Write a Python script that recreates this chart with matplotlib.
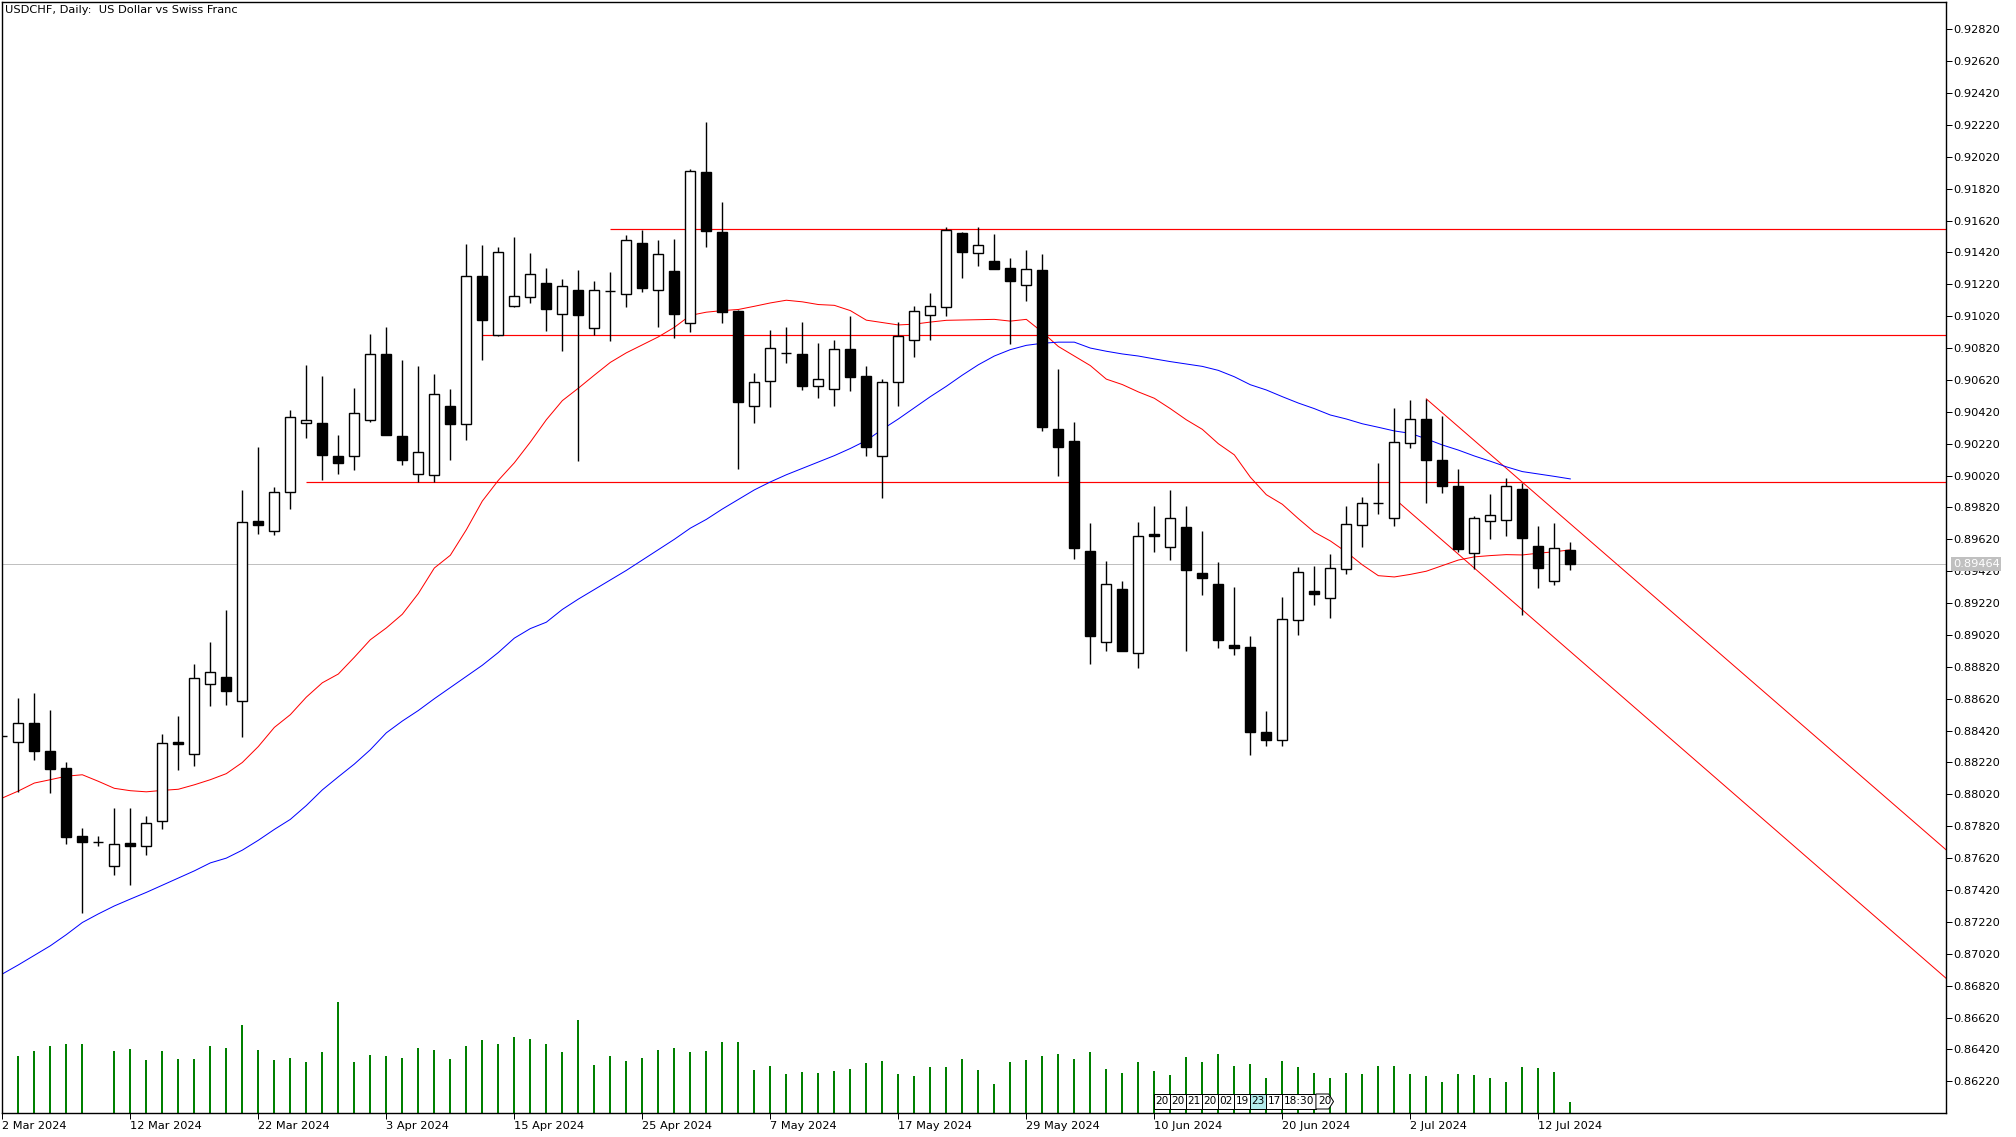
"""USDCHF daily chart, MetaTrader-style: candles, two moving averages, levels, channel, volume."""

import matplotlib

matplotlib.use("Agg")
import matplotlib.pyplot as plt
import matplotlib.transforms as mtransforms
from matplotlib.patches import Rectangle, Polygon

TITLE = "USDCHF, Daily:  US Dollar vs Swiss Franc"
LAST_PRICE = 0.89464

# daily bars, index 0 is the bar clipped at the left edge
opens = [
    0.88388, 0.88347, 0.88468, 0.88295, 0.88186, 0.87759, 0.87724, 0.87568, 0.87713, 0.87693,
    0.87850, 0.88349, 0.88273, 0.88714, 0.88755, 0.88607, 0.89736, 0.89671, 0.89919, 0.90347,
    0.90350, 0.90143, 0.90145, 0.90367, 0.90781, 0.90269, 0.90031, 0.90022, 0.90459, 0.90344,
    0.91269, 0.90899, 0.91084, 0.91140, 0.91226, 0.91036, 0.91182, 0.90944, 0.91180, 0.91162,
    0.91479, 0.91182, 0.91305, 0.90980, 0.91924, 0.91549, 0.91053, 0.90454, 0.90616, 0.90790,
    0.90784, 0.90585, 0.90560, 0.90815, 0.90644, 0.90145, 0.90605, 0.90868, 0.91030, 0.91075,
    0.91543, 0.91414, 0.91367, 0.91322, 0.91218, 0.91310, 0.90311, 0.90235, 0.89546, 0.88975,
    0.89308, 0.88910, 0.89652, 0.89571, 0.89697, 0.89406, 0.89339, 0.88958, 0.88944, 0.88409,
    0.88359, 0.89112, 0.89297, 0.89249, 0.89431, 0.89709, 0.89846, 0.89751, 0.90227, 0.90375,
    0.90118, 0.89955, 0.89532, 0.89734, 0.89740, 0.89936, 0.89579, 0.89357, 0.89551,
]
highs = [
    0.88388, 0.88627, 0.88653, 0.88547, 0.88225, 0.87809, 0.87759, 0.87934, 0.87934, 0.87884,
    0.88401, 0.88514, 0.88835, 0.88974, 0.89176, 0.89932, 0.90197, 0.89951, 0.90429, 0.90714,
    0.90644, 0.90274, 0.90568, 0.90907, 0.90952, 0.90745, 0.90708, 0.90658, 0.90563, 0.91473,
    0.91467, 0.91453, 0.91518, 0.91417, 0.91322, 0.91254, 0.91311, 0.91240, 0.91297, 0.91529,
    0.91563, 0.91495, 0.91504, 0.91946, 0.92238, 0.91736, 0.91060, 0.90663, 0.90932, 0.90952,
    0.90983, 0.90851, 0.90871, 0.91022, 0.90708, 0.90627, 0.90983, 0.91084, 0.91165, 0.91579,
    0.91551, 0.91579, 0.91535, 0.91386, 0.91437, 0.91411, 0.90689, 0.90355, 0.89722, 0.89485,
    0.89358, 0.89728, 0.89829, 0.89930, 0.89829, 0.89672, 0.89479, 0.89322, 0.89014, 0.88544,
    0.89258, 0.89448, 0.89454, 0.89527, 0.89829, 0.89885, 0.90098, 0.90445, 0.90495, 0.90501,
    0.90392, 0.90059, 0.89764, 0.89905, 0.90005, 0.89976, 0.89704, 0.89723, 0.89604,
]
lows = [
    0.88388, 0.88036, 0.88238, 0.88026, 0.87711, 0.87277, 0.87698, 0.87515, 0.87450, 0.87641,
    0.87804, 0.88175, 0.88201, 0.88573, 0.88579, 0.88377, 0.89652, 0.89645, 0.89808, 0.90258,
    0.89994, 0.90028, 0.90053, 0.90359, 0.90272, 0.90084, 0.89980, 0.89980, 0.90120, 0.90241,
    0.90742, 0.90893, 0.91076, 0.91101, 0.90927, 0.90804, 0.90109, 0.90902, 0.90862, 0.91075,
    0.91171, 0.90955, 0.90882, 0.90919, 0.91456, 0.90975, 0.90064, 0.90347, 0.90451, 0.90728,
    0.90554, 0.90507, 0.90454, 0.90549, 0.90145, 0.89877, 0.90459, 0.90762, 0.90868, 0.91019,
    0.91257, 0.91333, 0.91319, 0.90848, 0.91117, 0.90302, 0.90020, 0.89499, 0.88840, 0.88922,
    0.88922, 0.88810, 0.89538, 0.89493, 0.88922, 0.89269, 0.88941, 0.88896, 0.88266, 0.88322,
    0.88322, 0.89022, 0.89210, 0.89129, 0.89401, 0.89569, 0.89776, 0.89703, 0.90196, 0.89851,
    0.89913, 0.89538, 0.89434, 0.89625, 0.89639, 0.89148, 0.89317, 0.89336, 0.89428,
]
closes = [
    0.88388, 0.88468, 0.88290, 0.88182, 0.87754, 0.87722, 0.87724, 0.87711, 0.87698, 0.87843,
    0.88343, 0.88336, 0.88749, 0.88790, 0.88668, 0.89730, 0.89708, 0.89919, 0.90385, 0.90367,
    0.90151, 0.90101, 0.90412, 0.90781, 0.90277, 0.90120, 0.90171, 0.90529, 0.90342, 0.91269,
    0.90994, 0.91425, 0.91145, 0.91283, 0.91064, 0.91212, 0.91025, 0.91187, 0.91178, 0.91501,
    0.91199, 0.91409, 0.91036, 0.91930, 0.91557, 0.91047, 0.90479, 0.90610, 0.90823, 0.90790,
    0.90585, 0.90624, 0.90815, 0.90641, 0.90201, 0.90605, 0.90896, 0.91050, 0.91086, 0.91560,
    0.91425, 0.91464, 0.91319, 0.91238, 0.91313, 0.90322, 0.90201, 0.89563, 0.89011, 0.89339,
    0.88922, 0.89641, 0.89642, 0.89751, 0.89426, 0.89375, 0.88986, 0.88941, 0.88409, 0.88364,
    0.89118, 0.89412, 0.89275, 0.89437, 0.89717, 0.89846, 0.89846, 0.90229, 0.90378, 0.90115,
    0.89952, 0.89557, 0.89751, 0.89773, 0.89955, 0.89631, 0.89443, 0.89564, 0.89464,
]
# tick volume (relative units)
volumes = [
    0, 170, 185, 200, 206, 208, 0, 185, 193, 158, 185, 161, 161, 200, 196, 263, 190, 158, 166, 152,
    182, 334, 152, 173, 170, 166, 196, 190, 161, 202, 220, 208, 229, 223, 208, 182, 280, 145, 170, 155,
    166, 190, 196, 182, 185, 212, 212, 130, 140, 118, 124, 121, 127, 133, 151, 157, 118, 112, 139, 139,
    163, 130, 88, 154, 160, 172, 178, 163, 184, 133, 121, 154, 127, 115, 169, 154, 178, 142, 148, 106,
    157, 139, 121, 106, 121, 118, 142, 142, 118, 112, 94, 118, 115, 106, 94, 139, 136, 124, 34,
]
ma_fast = [
    0.87997, 0.88041, 0.88091, 0.88112, 0.88134, 0.88143, 0.88102, 0.88058, 0.88043, 0.88036,
    0.88045, 0.88052, 0.88080, 0.88112, 0.88150, 0.88220, 0.88320, 0.88440, 0.88520, 0.88630,
    0.88720, 0.88775, 0.88880, 0.88990, 0.89064, 0.89150, 0.89280, 0.89440, 0.89520, 0.89680,
    0.89860, 0.89990, 0.90100, 0.90230, 0.90370, 0.90490, 0.90568, 0.90650, 0.90730, 0.90790,
    0.90840, 0.90890, 0.90950, 0.91025, 0.91045, 0.91055, 0.91062, 0.91082, 0.91103, 0.91120,
    0.91110, 0.91093, 0.91088, 0.91055, 0.90995, 0.90980, 0.90965, 0.90970, 0.90983, 0.90994,
    0.90996, 0.90998, 0.91000, 0.90989, 0.91000, 0.90920, 0.90830, 0.90770, 0.90710, 0.90625,
    0.90591, 0.90545, 0.90505, 0.90440, 0.90370, 0.90310, 0.90220, 0.90150, 0.90010, 0.89900,
    0.89840, 0.89750, 0.89665, 0.89610, 0.89540, 0.89460, 0.89392, 0.89384, 0.89400, 0.89420,
    0.89455, 0.89490, 0.89510, 0.89518, 0.89524, 0.89522, 0.89533, 0.89542, 0.89554,
]
ma_slow = [
    0.86893, 0.86950, 0.87010, 0.87070, 0.87140, 0.87216, 0.87270, 0.87320, 0.87363, 0.87405,
    0.87450, 0.87495, 0.87540, 0.87590, 0.87620, 0.87670, 0.87732, 0.87800, 0.87863, 0.87950,
    0.88048, 0.88130, 0.88210, 0.88300, 0.88406, 0.88480, 0.88546, 0.88620, 0.88690, 0.88760,
    0.88830, 0.88910, 0.89000, 0.89060, 0.89100, 0.89180, 0.89245, 0.89305, 0.89365, 0.89425,
    0.89490, 0.89555, 0.89620, 0.89690, 0.89745, 0.89810, 0.89870, 0.89930, 0.89980, 0.90025,
    0.90065, 0.90105, 0.90145, 0.90190, 0.90240, 0.90310, 0.90375, 0.90445, 0.90515, 0.90580,
    0.90650, 0.90715, 0.90770, 0.90810, 0.90837, 0.90850, 0.90857, 0.90857, 0.90820, 0.90800,
    0.90783, 0.90770, 0.90752, 0.90735, 0.90720, 0.90705, 0.90680, 0.90640, 0.90590, 0.90557,
    0.90515, 0.90475, 0.90440, 0.90400, 0.90375, 0.90345, 0.90323, 0.90300, 0.90285, 0.90250,
    0.90212, 0.90180, 0.90143, 0.90110, 0.90075, 0.90045, 0.90030, 0.90015, 0.89999,
]

# horizontal levels: (first bar, price)
level_start = [38, 30, 19]
level_price = [0.91565, 0.90902, 0.89980]
# descending channel, two points each (bar, price)
channel_upper = [(89, 0.90501), (121.5, 0.87671)]
channel_lower = [(87, 0.89876), (121.5, 0.86865)]

date_idx = [0, 8, 16, 24, 32, 40, 48, 56, 64, 72, 80, 88, 96]
date_labels = [
    "2 Mar 2024", "12 Mar 2024", "22 Mar 2024", "3 Apr 2024", "15 Apr 2024", "25 Apr 2024",
    "7 May 2024", "17 May 2024", "29 May 2024", "10 Jun 2024", "20 Jun 2024", "2 Jul 2024",
    "12 Jul 2024",
]
price_ticks = [0.86220 + 0.002 * k for k in range(34)]

# economic-calendar markers along the bottom: (first bar, bars wide, text)
event_start = [72, 73, 74, 75, 76, 77, 78, 79, 80, 82.1]
event_width = [1, 1, 1, 1, 1, 1, 1, 1, 2.1, 1.1]
event_text = ["20", "20", "21", "20", "02", "19", "23", "17", "18:30", "20"]

W, H, DPI = 2016, 1137, 100
PX = 72.0 / DPI  # one pixel in points
FONT = "DejaVu Sans"

fig = plt.figure(figsize=(W / DPI, H / DPI), dpi=DPI, facecolor="white")
ax = fig.add_axes([2 / W, 1 - 1113 / H, 1944 / W, 1111 / H])
x_lo, x_hi = -0.02, 121.48
ax.set_xlim(x_lo, x_hi)
ax.set_ylim(0.86021, 0.92991)

n = len(opens)
xs = list(range(n))

# volume overlay in the main window
axv = ax.twinx()
axv.set_ylim(0, 3333)
axv.vlines(xs, 0, volumes, color="#008000", lw=2 * PX, zorder=1)
axv.set_yticks([])
axv.set_xlim(x_lo, x_hi)
for s in axv.spines.values():
    s.set_visible(False)
ax.set_zorder(axv.get_zorder() + 1)
ax.patch.set_visible(False)

ax.axhline(LAST_PRICE, color="#c0c0c0", lw=PX, zorder=1)

for start, price in zip(level_start, level_price):
    ax.hlines(price, start, x_hi, color="#ff0000", lw=1.2 * PX, zorder=2)
for pts in (channel_upper, channel_lower):
    ax.plot([p[0] for p in pts], [p[1] for p in pts], color="#ff0000", lw=PX, zorder=2)

ax.plot(xs, ma_fast, color="#ff0000", lw=PX, zorder=2)
ax.plot(xs, ma_slow, color="#0000ff", lw=PX, zorder=2)

# candles
ax.vlines(xs, lows, highs, color="black", lw=1.4 * PX, zorder=3)
bottoms = [min(o, c) for o, c in zip(opens, closes)]
heights = [abs(c - o) for o, c in zip(opens, closes)]
fills = ["white" if c > o else "black" for o, c in zip(opens, closes)]
ax.bar(xs, heights, width=0.62, bottom=bottoms, color=fills, edgecolor="black",
       linewidth=1.4 * PX, zorder=4)

# axes cosmetics
for s in ax.spines.values():
    s.set_color("black")
    s.set_linewidth(1.4 * PX)
ax.yaxis.tick_right()
ax.set_yticks(price_ticks)
ax.set_yticklabels([f"{v:.5f}" for v in price_ticks], fontsize=8.2, family=FONT)
ax.tick_params(axis="y", direction="out", length=4 * PX * 1.4, width=PX, pad=1.5)
ax.set_xticks(date_idx)
ax.set_xticklabels(date_labels, fontsize=8.2, family=FONT, ha="left")
ax.tick_params(axis="x", direction="out", length=4 * PX * 1.4, width=PX, pad=1.5)
for lab in ax.get_xticklabels():
    lab.set_x(0)

ax.text(3 / 1944, 1 - 3 / 1111, TITLE, transform=ax.transAxes, ha="left", va="top",
        fontsize=8.2, family=FONT, zorder=6)

# last-price tag on the scale
tag = mtransforms.blended_transform_factory(ax.transAxes, ax.transData)
ax.text(1 + 7 / 1944, LAST_PRICE, f"{LAST_PRICE:.5f}", transform=tag, ha="left", va="center",
        fontsize=8.2, family=FONT, color="white", clip_on=False, zorder=10,
        bbox=dict(boxstyle="square,pad=0.15", fc="#c0c0c0", ec="none"))

# calendar markers
ev = mtransforms.blended_transform_factory(ax.transData, ax.transAxes)
y0, y1 = 4 / 1111, 19 / 1111
for k, (s, w, t) in enumerate(zip(event_start, event_width, event_text)):
    fc = "#b4ecec" if t == "23" else "white"
    if k == len(event_text) - 1:
        shape = Polygon([(s, y0), (s + w - 0.3, y0), (s + w, (y0 + y1) / 2), (s + w - 0.3, y1),
                         (s, y1)], closed=True, transform=ev, fc=fc, ec="black", lw=PX,
                        zorder=7)
    else:
        shape = Rectangle((s, y0), w, y1 - y0, transform=ev, fc=fc, ec="black", lw=PX, zorder=7)
    ax.add_patch(shape)
    ax.text(s + w / 2, (y0 + y1) / 2, t, transform=ev, ha="center", va="center",
            fontsize=7.6, family=FONT, zorder=8)

fig.savefig("out.png", dpi=DPI, facecolor="white")
